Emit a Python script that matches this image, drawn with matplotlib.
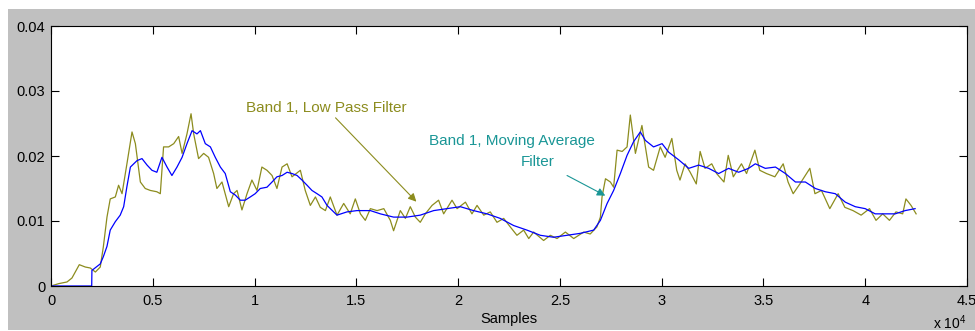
import numpy as np
import matplotlib.pyplot as plt
from matplotlib.patches import Rectangle

# --- Daten (Samples, Amplitude in 1e-3) ---
lp_x = [0, 375, 785, 1030, 1390, 1685, 1930, 2180, 2420, 2570, 2750, 2910, 3160, 3320,
        3490, 3730, 3980, 4145, 4390, 4630, 4880, 5200, 5370, 5530, 5780, 6030, 6270,
        6440, 6680, 6880, 7010, 7250, 7500, 7740, 7990, 8150, 8400, 8730, 8970, 9140,
        9380, 9630, 9870, 10120, 10360, 10610, 10860, 11100, 11350, 11600, 11840, 12250,
        12490, 12740, 12990, 13230, 13480, 13720, 14050, 14380, 14700, 14950, 15200,
        15440, 15690, 16020, 16350, 16670, 16830, 17160, 17410, 17650, 17900, 18140,
        18390, 18720, 19040, 19290, 19700, 19950, 20360, 20680, 20930, 21260, 21580,
        21910, 22240, 22560, 22890, 23220, 23470, 23710, 24200, 24530, 24860, 25270,
        25680, 26170, 26490, 26820, 26990, 27070, 27240, 27480, 27640, 27810, 28060,
        28300, 28460, 28710, 29030, 29360, 29600, 29930, 30170, 30500, 30740, 30900,
        31150, 31400, 31700, 31890, 32130, 32460, 32700, 33060, 33270, 33520, 33920,
        34170, 34580, 34820, 35150, 35560, 35970, 36210, 36460, 36790, 37280, 37530,
        37850, 38260, 38670, 39000, 39400, 39800, 40210, 40530, 40860, 41190, 41510,
        41840, 42000, 42250, 42500]
lp_y = [0, 0.36, 0.62, 1.23, 3.28, 2.92, 2.77, 2.15, 2.92, 6.0, 10.6, 13.4, 13.7, 15.5,
        14.2, 18.8, 23.7, 21.9, 16.0, 15.0, 14.7, 14.5, 14.2, 21.4, 21.4, 21.9, 23.0,
        20.4, 23.4, 26.5, 23.4, 19.6, 20.4, 19.8, 17.3, 15.0, 16.0, 12.2, 14.2, 14.7,
        11.7, 14.2, 16.3, 14.7, 18.3, 17.8, 17.0, 15.0, 18.3, 18.8, 16.8, 17.8,
        14.7, 12.4, 13.7, 12.1, 11.6, 13.7, 10.9, 12.7, 11.1, 13.4, 11.1,
        10.1, 11.9, 11.6, 11.9, 10.1, 8.5, 11.6, 10.4, 12.2, 10.6, 9.8,
        11.1, 12.4, 13.2, 11.1, 13.2, 11.9, 12.9, 11.1, 12.4, 10.9, 11.4,
        9.8, 10.4, 9.1, 7.8, 8.6, 7.3, 8.3, 7.0, 7.8, 7.3, 8.3,
        7.3, 8.3, 8.0, 9.1, 10.6, 13.7, 16.5, 16.0, 15.2, 20.9, 20.7,
        21.4, 26.3, 20.4, 24.7, 18.3, 17.8, 21.4, 19.8, 22.7, 17.8, 16.3,
        18.8, 17.5, 15.7, 20.7, 18.1, 18.8, 17.3, 16.0, 20.1, 16.8, 18.8,
        17.3, 20.9, 17.8, 17.3, 16.8, 18.8, 16.0, 14.2, 15.7, 18.1, 14.2,
        14.7, 11.9, 14.2, 12.1, 11.6, 10.9, 11.9, 10.1, 11.1, 10.1, 11.4,
        11.1, 13.4, 12.4, 11.1]

ma_x = [0, 2000, 2010, 2420, 2570, 2750, 2910, 3160, 3400, 3570, 3730, 3900, 4230, 4470,
        4720, 4960, 5200, 5450, 5700, 5940, 6190, 6440, 6680, 6930, 7170, 7340, 7580,
        7830, 8070, 8320, 8560, 8810, 9050, 9300, 9540, 9790, 10030, 10280, 10610,
        10860, 11100, 11350, 11600, 11840, 12090, 12330, 12580, 12820, 13070, 13310,
        13560, 14050, 14540, 15030, 15690, 16180, 16830, 17490, 18140, 18800, 19450,
        20110, 20760, 21420, 22070, 22730, 23380, 24040, 24690, 25350, 26000, 26660,
        26990, 27320, 27640, 27970, 28300, 28620, 28950, 29200, 29600, 30020, 30340,
        30840, 31330, 31820, 32310, 32800, 33290, 33780, 34270, 34600, 35090, 35590,
        36080, 36570, 37060, 37550, 38040, 38530, 39020, 39510, 40000, 40490, 40980,
        41470, 41960, 42450]
ma_y = [0, 0, 2.4, 3.4, 4.5, 6.1, 8.6, 9.9, 10.9, 12.2, 15.3, 18.3, 19.3, 19.6,
        18.6, 17.8, 17.5, 19.8, 18.3, 17.0, 18.3, 19.8, 21.9, 23.9, 23.4, 23.9, 21.9,
        21.4, 19.8, 18.3, 17.3, 14.5, 14.0, 13.2, 13.2, 13.7, 14.2, 15.0, 15.2,
        16.0, 16.8, 17.0, 17.5, 17.3, 17.0, 16.3, 15.5, 14.7, 14.2, 13.7,
        12.4, 10.9, 11.4, 11.6, 11.6, 11.1, 10.6, 10.6, 10.9, 11.6, 11.9,
        12.2, 11.6, 11.1, 10.4, 9.3, 8.6, 7.8, 7.5, 7.8, 8.1, 8.6,
        10.1, 12.7, 14.7, 17.3, 20.1, 22.2, 23.7, 22.4, 21.4, 21.9, 20.6,
        19.4, 18.1, 18.6, 18.1, 17.3, 18.1, 17.5, 18.1, 18.8, 18.1, 18.3,
        17.3, 16.0, 16.0, 15.0, 14.5, 14.2, 12.9, 12.2, 11.9, 11.1, 11.1,
        11.1, 11.6, 11.9]

x_ticks = [0, 5000, 10000, 15000, 20000, 25000, 30000, 35000, 40000, 45000]
x_ticklabels = ['0', '0.5', '1', '1.5', '2', '2.5', '3', '3.5', '4', '4.5']
y_ticks = [0, 0.01, 0.02, 0.03, 0.04]
y_ticklabels = ['0', '0.01', '0.02', '0.03', '0.04']

olive = '#8c8c1e'
teal = '#1a9696'

plt.rcParams['font.family'] = ['Liberation Sans', 'DejaVu Sans']
plt.rcParams['mathtext.fontset'] = 'custom'
plt.rcParams['mathtext.rm'] = 'Liberation Sans'

fig = plt.figure(figsize=(9.75, 3.31), dpi=100, facecolor='white')
# grauer MATLAB-Hintergrund
bg = Rectangle((8 / 975, 1 / 331), 1 - 8 / 975, (331 - 10) / 331,
               transform=fig.transFigure, facecolor='#c0c0c0',
               edgecolor='none', zorder=-10)
fig.patches.append(bg)

ax = fig.add_axes([51 / 975, 45 / 331, 916 / 975, 260 / 331], zorder=1)
ax.set_facecolor('white')

ax.plot(lp_x, np.array(lp_y) * 1e-3, color=olive, lw=0.9)
ax.plot(ma_x, np.array(ma_y) * 1e-3, color='#0000ff', lw=0.9)

ax.set_xlim(0, 45000)
ax.set_ylim(0, 0.04)
ax.set_xticks(x_ticks)
ax.set_xticklabels(x_ticklabels)
ax.set_yticks(y_ticks)
ax.set_yticklabels(y_ticklabels)
ax.tick_params(direction='in', length=6, width=0.8, top=True, right=True,
               labelsize=10.5, colors='black', pad=4)
ax.tick_params(axis='x', pad=6)
for s in ax.spines.values():
    s.set_linewidth(0.8)

ax.set_xlabel('Samples', fontsize=10.5, labelpad=3)
fig.text(933 / 975, -1 / 331, r'x 10$^{\rm 4}$', fontsize=10, va='bottom', ha='left',
         zorder=2)

# Annotationen
ax.annotate('Band 1, Low Pass Filter', xy=(17950, 0.01297), xytext=(9570, 0.0263),
            fontsize=11, color=olive, ha='left', va='bottom',
            arrowprops=dict(arrowstyle='-|>', color=olive, lw=0.8,
                            shrinkA=0, shrinkB=0, mutation_scale=12),
            annotation_clip=False)
ax.text(22650, 0.0223, 'Band 1, Moving Average', fontsize=11, color=teal,
        ha='center', va='center')
ax.annotate('Filter', xy=(27230, 0.0139), xytext=(23900, 0.0191),
            fontsize=11, color=teal, ha='center', va='center',
            arrowprops=dict(arrowstyle='-|>', color=teal, lw=0.8,
                            shrinkA=8, shrinkB=0, mutation_scale=12,
                            relpos=(1.0, 0.0)))

fig.savefig('out.png', dpi=100, facecolor=fig.get_facecolor())
